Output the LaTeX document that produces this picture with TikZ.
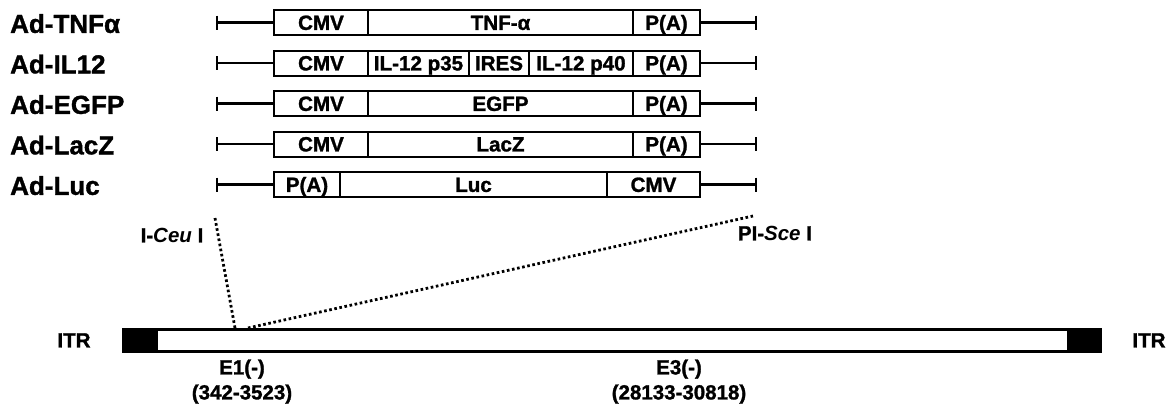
\documentclass[tikz,border=0pt]{standalone}
\usepackage{fontspec}
\setmainfont{Liberation Sans}[BoldFeatures={FakeBold=1.3}]
\begin{document}
\begin{tikzpicture}[x=1pt,y=-1pt,
  lbl/.style={anchor=west,inner sep=0pt,text height=18.7pt,text depth=0pt,font=\fontsize{26}{30}\selectfont\bfseries},
  seg/.style={draw,line width=2pt,minimum height=25pt,inner sep=0pt,text height=14.8pt,text depth=0pt,font=\fontsize{20.6}{24}\selectfont\bfseries},
  arm/.style={line width=2.2pt},
  tick/.style={line width=2.8pt},
  txt/.style={inner sep=0pt,text height=14.8pt,text depth=0pt,font=\fontsize{20.5}{24}\selectfont\bfseries},
  dots/.style={line width=2.8pt,dash pattern=on 2.6pt off 2.6pt},
  blk/.style={draw,fill=black,line width=1pt,minimum height=24pt,inner sep=0pt}]
\useasboundingbox (0,0) rectangle (1174,405);
\newcommand\segbox[5]{\node[seg,minimum width=#3pt-#2pt] (#1) at ({(#2+#3)/2},#4) {#5};}
\newcommand\armrow[4]{%
  \coordinate (#1L) at (217,#2); \coordinate (#1R) at (756,#2);
  \draw[arm] (#1L) -- (#3.west);
  \draw[arm] (#4.east) -- (#1R);
  \draw[tick] ([yshift=7pt]#1L) -- ([yshift=-7pt]#1L);
  \draw[tick] ([yshift=7pt]#1R) -- ([yshift=-7pt]#1R);}
% row 1
\node[lbl] (n1) at (10,23.5) {Ad-TNFα};
\segbox{a1}{274}{368}{22.5}{CMV}
\segbox{b1}{368}{633}{22.5}{TNF-α}
\segbox{c1}{633}{700}{22.5}{P(A)}
\armrow{r1}{22.5}{a1}{c1}
% row 2
\node[lbl] (n2) at (10,64) {Ad-IL12};
\segbox{a2}{274}{368}{63}{CMV}
\segbox{b2}{368}{469}{63}{IL-12 p35}
\segbox{d2}{469}{529}{63}{IRES}
\segbox{e2}{529}{633}{63}{IL-12 p40}
\segbox{c2}{633}{700}{63}{P(A)}
\armrow{r2}{63}{a2}{c2}
% row 3
\node[lbl] (n3) at (10,104.5) {Ad-EGFP};
\segbox{a3}{274}{368}{103.5}{CMV}
\segbox{b3}{368}{633}{103.5}{EGFP}
\segbox{c3}{633}{700}{103.5}{P(A)}
\armrow{r3}{103.5}{a3}{c3}
% row 4
\node[lbl] (n4) at (10,145) {Ad-LacZ};
\segbox{a4}{274}{368}{144}{CMV}
\segbox{b4}{368}{633}{144}{LacZ}
\segbox{c4}{633}{700}{144}{P(A)}
\armrow{r4}{144}{a4}{c4}
% row 5
\node[lbl] (n5) at (10,185.5) {Ad-Luc};
\segbox{a5}{274}{340}{184.5}{P(A)}
\segbox{b5}{340}{607}{184.5}{Luc}
\segbox{c5}{607}{700}{184.5}{CMV}
\armrow{r5}{184.5}{a5}{c5}
% bottom bar
\node[draw,line width=3pt,minimum width=1100pt-123pt,minimum height=22pt,inner sep=0pt] (bar) at ({(123+1100)/2},340) {};
\node[blk,minimum width=34pt] (itrL) at (140,340) {};
\node[blk,minimum width=33pt] (itrR) at (1083.5,340) {};
\node[txt] (tL) at (74,340) {ITR};
\node[txt] (tR) at (1149,340) {ITR};
\node[txt] (e1) at (242,367) {E1(-)};
\node[txt] (e1r) at (242,392) {(342-3523)};
\node[txt] (e3) at (679,367) {E3(-)};
\node[txt] (e3r) at (679,392) {(28133-30818)};
% sites
\node[txt] (ceu) at (172,235) {I-\textit{Ceu} I};
\node[txt] (sce) at (775,233) {PI-\textit{Sce} I};
\coordinate (ceuT) at (215,218);
\coordinate (sceT) at (753,216);
\coordinate (ceuB) at (235,328);
\coordinate (sceB) at (248,328);
\draw[dots] (ceuT) -- (ceuB);
\draw[dots] (sceB) -- (sceT);
\end{tikzpicture}
\end{document}
